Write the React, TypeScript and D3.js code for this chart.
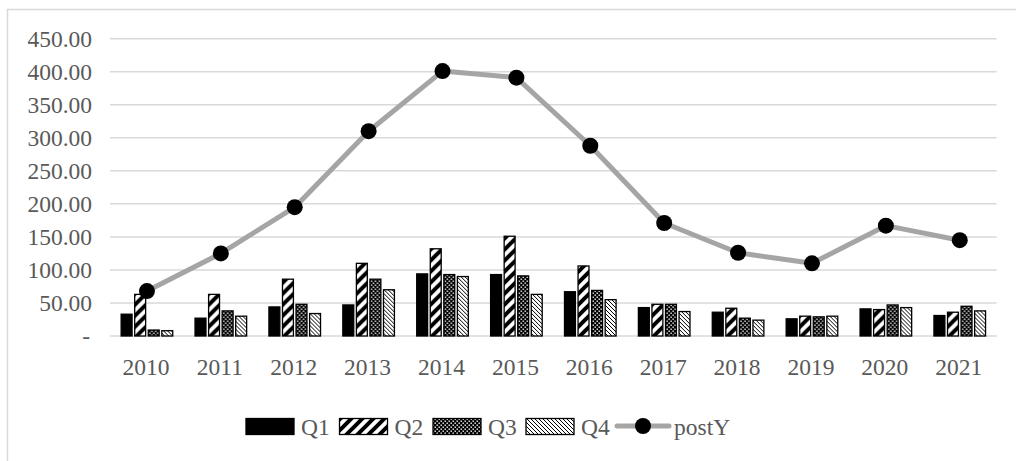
import React from "react";
import * as d3 from "d3";

const years = ["2010", "2011", "2012", "2013", "2014", "2015", "2016", "2017", "2018", "2019", "2020", "2021"];
const q1 = [33, 27, 44, 47, 94, 93, 67, 43, 36, 26, 41, 31];
const q2 = [63, 63, 86, 110, 132, 151, 106, 48, 42, 30, 40, 36];
const q3 = [9, 38, 48, 86, 93, 91, 69, 48, 27, 29, 47, 45];
const q4 = [8, 30, 34, 70, 90, 63, 55, 37, 24, 30, 43, 38];
const postY = [68, 125, 195, 310, 401, 391, 288, 171, 126, 110, 167, 145];
const yTicks = [0, 50, 100, 150, 200, 250, 300, 350, 400, 450];
const seriesNames = ["Q1", "Q2", "Q3", "Q4"];

const W = 1016;
const H = 461;
const FONT = "'Liberation Serif', 'Times New Roman', serif";
const FS = 23.5;
const GRID = "#d9d9d9";
const TEXT = "#595959";

const fills = ["#000", "url(#pQ2)", "url(#pQ3)", "url(#pQ4)"];

export default function App() {
  const series = [q1, q2, q3, q4];
  const x = d3.scaleBand<string>().domain(years).range([110, 996.7]);
  const y = d3.scaleLinear().domain([0, 450]).range([336, 38.7]);
  const inner = d3
    .scaleBand<number>()
    .domain([0, 1, 2, 3])
    .range([0, 52.6])
    .paddingInner(0.12);
  const groupOffset = (x.bandwidth() - 52.6) / 2;

  const line = d3
    .line<number>()
    .x((_, i) => (x(years[i]) as number) + x.bandwidth() / 2)
    .y((d) => y(d));

  const fmt = (v: number) => (v === 0 ? "-" : d3.format(".2f")(v));

  // legend layout
  const legendItems = [
    { name: "Q1", x: 246 },
    { name: "Q2", x: 339.5 },
    { name: "Q3", x: 433 },
    { name: "Q4", x: 526 },
  ];

  return (
    <svg
      width={W}
      height={H}
      style={{ position: "absolute", left: 0, top: 0, background: "#fff" }}
      fontFamily={FONT}
    >
      <defs>
        <pattern id="pQ2" patternUnits="userSpaceOnUse" width={11} height={11}>
          <rect width={11} height={11} fill="#fff" />
          <path d="M-3,3 L3,-3 M0,11 L11,0 M8,14 L14,8" stroke="#000" strokeWidth={4} />
        </pattern>
        <pattern id="pQ3" patternUnits="userSpaceOnUse" width={4} height={4}>
          <rect width={4} height={4} fill="#000" />
          <rect x={0.5} y={0.5} width={1.4} height={1.4} fill="#fff" />
          <rect x={2.5} y={2.5} width={1.4} height={1.4} fill="#fff" />
        </pattern>
        <pattern id="pQ4" patternUnits="userSpaceOnUse" width={4} height={4}>
          <rect width={4} height={4} fill="#fff" />
          <path d="M-1,-1 L5,5 M-1,3 L1,5 M3,-1 L5,1" stroke="#000" strokeWidth={1} />
        </pattern>
      </defs>

      {/* chart frame */}
      <rect x={7.5} y={9.5} width={1030} height={480} fill="none" stroke={GRID} strokeWidth={1.5} />

      {/* gridlines */}
      {yTicks.map((t) => (
        <line key={t} x1={110} x2={996.7} y1={y(t)} y2={y(t)} stroke={GRID} strokeWidth={1.5} />
      ))}

      {/* y tick labels */}
      {yTicks.map((t) => (
        <text
          key={t}
          x={t === 0 ? 90 : 92}
          y={y(t)}
          dy="0.35em"
          textAnchor="end"
          fontSize={FS}
          fill={TEXT}
        >
          {fmt(t)}
        </text>
      ))}

      {/* x tick labels */}
      {years.map((yr) => (
        <text
          key={yr}
          x={(x(yr) as number) + x.bandwidth() / 2 - 1}
          y={375}
          textAnchor="middle"
          fontSize={FS}
          fill={TEXT}
        >
          {yr}
        </text>
      ))}

      {/* bars */}
      {years.map((yr, i) => (
        <g key={yr} transform={`translate(${(x(yr) as number) + groupOffset},0)`}>
          {series.map((s, k) => (
            <rect
              key={k}
              x={(inner(k) as number) + 0.5}
              y={y(s[i])}
              width={inner.bandwidth() - 1}
              height={y(0) - y(s[i])}
              fill={fills[k]}
              stroke="#000"
              strokeWidth={1.3}
            />
          ))}
        </g>
      ))}

      {/* postY line */}
      <path d={line(postY) || ""} fill="none" stroke="#a5a5a5" strokeWidth={5} strokeLinejoin="round" />
      {postY.map((v, i) => (
        <circle
          key={i}
          cx={(x(years[i]) as number) + x.bandwidth() / 2}
          cy={y(v)}
          r={8}
          fill="#000"
        />
      ))}

      {/* legend */}
      {legendItems.map((it, k) => (
        <g key={it.name}>
          <rect
            x={it.x}
            y={418.5}
            width={48}
            height={16}
            fill={fills[k]}
            stroke="#000"
            strokeWidth={1.3}
          />
          <text x={it.x + 55} y={426.5} dy="0.35em" fontSize={FS} fill={TEXT}>
            {seriesNames[k]}
          </text>
        </g>
      ))}
      <line x1={617} x2={669} y1={426} y2={426} stroke="#a5a5a5" strokeWidth={5} strokeLinecap="round" />
      <circle cx={643} cy={426} r={8} fill="#000" />
      <text x={674} y={426.5} dy="0.35em" fontSize={FS} fill={TEXT}>
        postY
      </text>
    </svg>
  );
}
